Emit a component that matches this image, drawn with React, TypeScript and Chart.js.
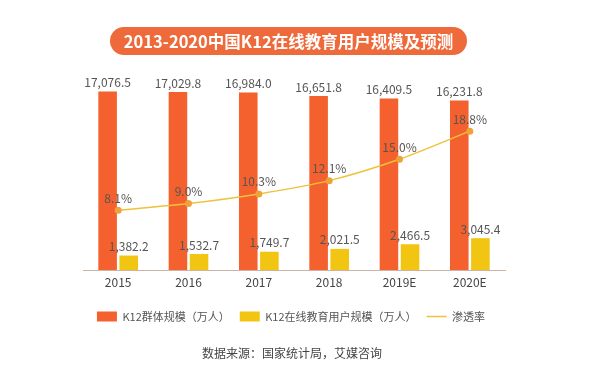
import React, { useEffect, useRef } from 'react';
import { Chart, registerables } from 'chart.js';

Chart.register(...registerables);

const categories = ['2015', '2016', '2017', '2018', '2019E', '2020E'];
const k12Population = [17076.5, 17029.8, 16984.0, 16651.8, 16409.5, 16231.8];
const k12OnlineUsers = [1382.2, 1532.7, 1749.7, 2021.5, 2466.5, 3045.4];
const penetrationRate = [8.1, 9.0, 10.3, 12.1, 15.0, 18.8];
const seriesNames = ['K12群体规模（万人）', 'K12在线教育用户规模（万人）', '渗透率'];
const titleText = '2013-2020中国K12在线教育用户规模及预测';
const sourceText = '数据来源：国家统计局，艾媒咨询';

const FONT = '"Noto Sans CJK SC", "Noto Sans", sans-serif';
const ORANGE = '#F4612E';
const YELLOW = '#F2C512';
const LINE = '#EEC23A';
const POINT = '#EDA33A';
const TEXT = '#555555';

const valueLabels = {
  id: 'valueLabels',
  afterDatasetsDraw(chart: any) {
    const ctx = chart.ctx;
    ctx.save();
    ctx.font = `12px ${FONT}`;
    ctx.fillStyle = TEXT;
    ctx.textAlign = 'center';
    ctx.textBaseline = 'middle';
    chart.data.datasets.forEach((ds: any, i: number) => {
      const meta = chart.getDatasetMeta(i);
      meta.data.forEach((el: any, j: number) => {
        const v = ds.data[j] as number;
        const isLine = ds.type === 'line';
        const text = isLine
          ? v.toFixed(1) + '%'
          : v.toLocaleString('en-US', { minimumFractionDigits: 1, maximumFractionDigits: 1 });
        ctx.fillText(text, el.x, el.y - (isLine ? 12 : 9));
      });
    });
    ctx.restore();
  },
};

export default function App() {
  const canvasRef = useRef<HTMLCanvasElement | null>(null);

  useEffect(() => {
    if (!canvasRef.current) return;
    Chart.defaults.font.family = FONT;
    const chart = new Chart(canvasRef.current, {
      data: {
        labels: categories,
        datasets: [
          {
            type: 'line',
            label: seriesNames[2],
            data: penetrationRate,
            yAxisID: 'y1',
            borderColor: LINE,
            backgroundColor: LINE,
            borderWidth: 1.5,
            tension: 0.3,
            pointRadius: 3.5,
            pointBackgroundColor: POINT,
            pointBorderColor: POINT,
            pointBorderWidth: 0,
          } as any,
          {
            type: 'bar',
            label: seriesNames[0],
            data: k12Population,
            yAxisID: 'y',
            backgroundColor: ORANGE,
            barPercentage: 0.88,
            categoryPercentage: 0.6,
          },
          {
            type: 'bar',
            label: seriesNames[1],
            data: k12OnlineUsers,
            yAxisID: 'y',
            backgroundColor: YELLOW,
            barPercentage: 0.88,
            categoryPercentage: 0.6,
          },
        ],
      },
      options: {
        responsive: false,
        animation: false,
        layout: { padding: { left: 0, right: 18, top: 61, bottom: 33 } },
        scales: {
          x: {
            grid: { display: false, drawTicks: false },
            border: { display: true, color: '#CDB2A5', width: 1 },
            ticks: { color: '#444', font: { size: 12, family: FONT }, padding: 5 },
            afterFit: (scale: any) => {
              scale.height += 6.6;
            },
          },
          y: {
            display: true,
            position: 'left',
            min: 0,
            max: 20000,
            ticks: { display: false },
            grid: { display: false, drawTicks: false },
            border: { display: false },
            afterFit: (scale: any) => {
              scale.width = 83;
            },
          },
          y1: {
            display: true,
            position: 'right',
            min: 0,
            max: 28.3,
            ticks: { display: false },
            grid: { display: false, drawTicks: false },
            border: { display: false },
            afterFit: (scale: any) => {
              scale.width = 77;
            },
          },
        },
        plugins: {
          tooltip: { enabled: false },
          legend: {
            position: 'bottom',
            labels: {
              usePointStyle: true,
              pointStyleWidth: 20,
              boxHeight: 10,
              padding: 10,
              color: TEXT,
              font: { size: 11, family: FONT },
              generateLabels: (c: any) => {
                const items = Chart.defaults.plugins.legend.labels.generateLabels(c);
                return items.map((it: any) => {
                  const ds = c.data.datasets[it.datasetIndex];
                  if (ds.type === 'line') {
                    return { ...it, pointStyle: 'line', strokeStyle: LINE, lineWidth: 1.5 };
                  }
                  return { ...it, pointStyle: 'rect', lineWidth: 0, strokeStyle: ds.backgroundColor };
                });
              },
              sort: (a: any, b: any) => {
                const rank = (i: number) => (i === 0 ? 2 : i - 1);
                return rank(a.datasetIndex) - rank(b.datasetIndex);
              },
            },
          },
        },
      },
      plugins: [valueLabels],
    } as any);
    return () => chart.destroy();
  }, []);

  return (
    <div
      style={{
        position: 'absolute',
        left: 0,
        top: 0,
        width: 600,
        height: 365,
        background: '#fff',
        overflow: 'hidden',
        fontFamily: FONT,
      }}
    >
      <canvas ref={canvasRef} width={600} height={365} style={{ position: 'absolute', left: 0, top: 0 }} />
      <div
        style={{
          position: 'absolute',
          left: 110,
          top: 27,
          width: 357,
          height: 28,
          borderRadius: 14,
          background: '#EE6A3B',
          color: '#fff',
          fontWeight: 700,
          fontSize: 16.5,
          lineHeight: '28px',
          textAlign: 'center',
          whiteSpace: 'nowrap',
        }}
      >
        {titleText}
      </div>
      <div
        style={{
          position: 'absolute',
          left: 0,
          width: 584,
          top: 344,
          fontSize: 12,
          lineHeight: '18px',
          color: '#444',
          textAlign: 'center',
          whiteSpace: 'nowrap',
        }}
      >
        {sourceText}
      </div>
    </div>
  );
}
